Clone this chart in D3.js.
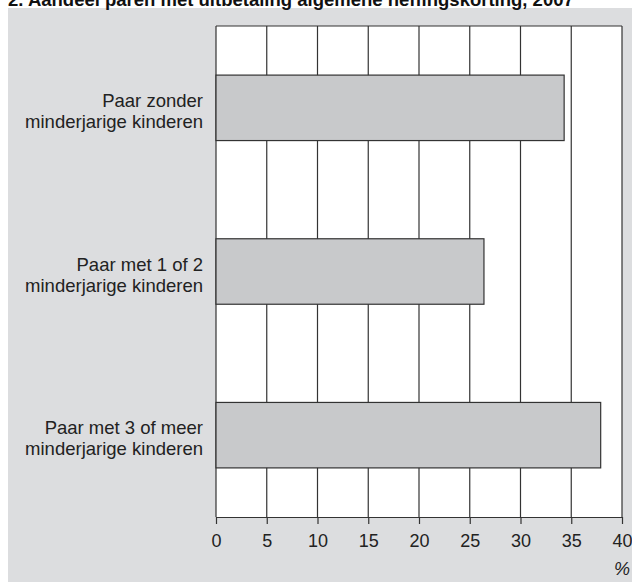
<!DOCTYPE html>
<html>
<head>
<meta charset="utf-8">
<script src="https://cdn.jsdelivr.net/npm/d3@7"></script>
<style>
  body { margin: 0; background: #fff; }
  svg { display: block; font-family: "Liberation Sans", Arial, sans-serif; }
</style>
</head>
<body>
<svg width="632" height="582"></svg>
<script>
// Aandeel paren met uitbetaling algemene heffingskorting
var categories = [
  ["Paar zonder", "minderjarige kinderen"],
  ["Paar met 1 of 2", "minderjarige kinderen"],
  ["Paar met 3 of meer", "minderjarige kinderen"]
];
var values = [34.3, 26.4, 37.9];
var xTicks = [0, 5, 10, 15, 20, 25, 30, 35, 40];

(function () {
  'use strict';
  var svg = d3.select('svg');
  var left = 216, right = 622, top = 26, bottom = 517;

  // grey panel
  svg.append('rect').attr('x', 8).attr('y', 8).attr('width', 624).attr('height', 574)
    .attr('fill', '#dcdddf');

  // title, cut off at the top like the original scan
  svg.append('text').attr('x', 8).attr('y', 6)
    .attr('font-size', 18.5).attr('font-weight', 'bold').attr('fill', '#111')
    .text('2. Aandeel paren met uitbetaling algemene heffingskorting, 2007');

  var x = d3.scaleLinear().domain([0, 40]).range([left, right]);
  var y = d3.scaleBand().domain(d3.range(categories.length)).range([top, bottom])
    .paddingInner(0.6).paddingOuter(0.3);

  svg.append('rect').attr('x', left).attr('y', top)
    .attr('width', right - left).attr('height', bottom - top).attr('fill', '#fff');

  // grid
  svg.selectAll('.grid').data(xTicks).enter().append('line')
    .attr('x1', function (d) { return x(d); })
    .attr('x2', function (d) { return x(d); })
    .attr('y1', top).attr('y2', bottom)
    .attr('stroke', '#333').attr('stroke-width', 1.2);

  svg.append('line').attr('x1', left).attr('x2', right).attr('y1', top).attr('y2', top)
    .attr('stroke', '#333').attr('stroke-width', 1.2);

  // bars
  svg.selectAll('.bar').data(values).enter().append('rect')
    .attr('x', x(0))
    .attr('y', function (d, i) { return y(i); })
    .attr('width', function (d) { return x(d) - x(0); })
    .attr('height', y.bandwidth())
    .attr('fill', '#c8c9cb').attr('stroke', '#333').attr('stroke-width', 1.2);

  // category labels
  var lab = svg.selectAll('.lab').data(categories).enter().append('text')
    .attr('text-anchor', 'end').attr('font-size', 18.5).attr('fill', '#222');
  lab.append('tspan').attr('x', 203)
    .attr('y', function (d, i) { return y(i) + y.bandwidth() / 2 - 1; })
    .text(function (d) { return d[0]; });
  lab.append('tspan').attr('x', 203)
    .attr('y', function (d, i) { return y(i) + y.bandwidth() / 2 + 20; })
    .text(function (d) { return d[1]; });

  // x axis
  var axis = svg.append('g').attr('transform', 'translate(0,' + bottom + ')')
    .call(d3.axisBottom(x).tickValues(xTicks).tickSize(7).tickPadding(10).tickSizeOuter(0));
  axis.select('.domain').attr('stroke', '#333').attr('stroke-width', 1.2);
  axis.selectAll('.tick line').attr('stroke', '#333').attr('stroke-width', 1.2);
  axis.selectAll('.tick text').attr('font-size', 18).attr('fill', '#222')
    .attr('font-family', '"Liberation Sans", Arial, sans-serif');

  svg.append('text').attr('x', right).attr('y', 575).attr('text-anchor', 'middle')
    .attr('font-size', 18).attr('font-style', 'italic').attr('fill', '#222').text('%');
})();
</script>
</body>
</html>
